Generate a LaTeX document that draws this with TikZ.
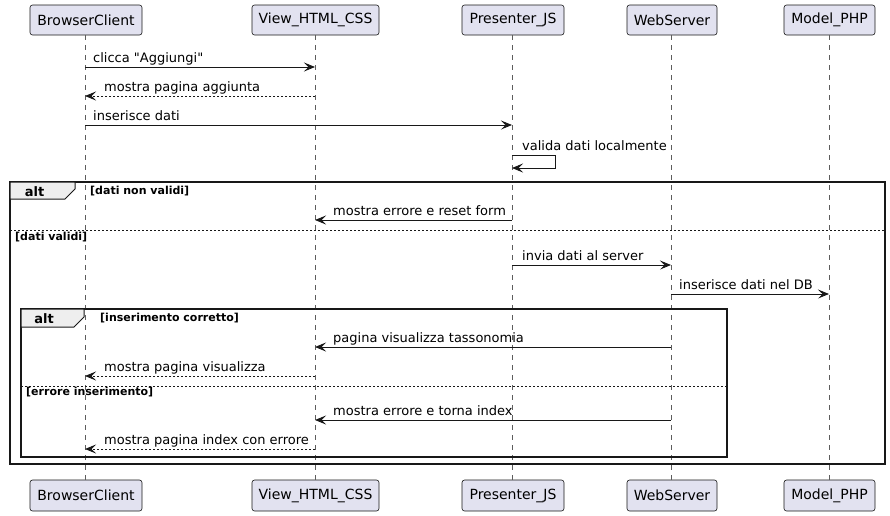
\documentclass[tikz,border=0pt]{standalone}
\usepackage{fontspec}
\setmainfont{DejaVu Sans}[Ligatures=TeXOff]
\usetikzlibrary{arrows.meta}
\definecolor{partfill}{HTML}{E2E2F0}
\definecolor{ink}{HTML}{181818}
\definecolor{tabfill}{HTML}{EEEEEE}
\begin{document}
\begin{tikzpicture}[x=1pt,y=-1pt,
  part/.style={draw=ink,line width=0.6pt,fill=partfill,rounded corners=2.5pt,minimum height=30pt,inner sep=0pt,font=\fontsize{14}{16}\selectfont,text=black},
  life/.style={draw=ink!70,line width=0.6pt,dash pattern=on 5pt off 5pt},
  msg/.style={draw=ink,line width=0.9pt,-{Stealth[length=11pt,width=9pt,inset=4.5pt]}},
  ret/.style={msg,dash pattern=on 2pt off 2pt},
  lbl/.style={anchor=base west,inner sep=0pt,font=\fontsize{13}{15}\selectfont},
  guard/.style={anchor=base west,inner sep=0pt,font=\fontsize{11}{13}\selectfont\bfseries},
  frame/.style={draw=ink,line width=1.5pt},
  tab/.style={draw=ink,line width=1pt,fill=tabfill},
  sep/.style={draw=ink,line width=0.8pt,dash pattern=on 2pt off 2pt},
  alttxt/.style={anchor=base,inner sep=0pt,font=\fontsize{13}{15}\selectfont\bfseries}]
\useasboundingbox (0,0) rectangle (890,515);
% participants top
\node[part,minimum width=112pt] (bc) at (86,20) {BrowserClient};
\node[part,minimum width=127pt] (vw) at (315.5,20) {View\_HTML\_CSS};
\node[part,minimum width=102pt] (pr) at (513,20) {Presenter\_JS};
\node[part,minimum width=90pt] (ws) at (672,20) {WebServer};
\node[part,minimum width=91pt] (md) at (829.5,20) {Model\_PHP};
% participants bottom
\node[part,minimum width=112pt,minimum height=31pt] (bc2) at (86,495.5) {BrowserClient};
\node[part,minimum width=127pt,minimum height=31pt] (vw2) at (315.5,495.5) {View\_HTML\_CSS};
\node[part,minimum width=102pt,minimum height=31pt] (pr2) at (513,495.5) {Presenter\_JS};
\node[part,minimum width=90pt,minimum height=31pt] (ws2) at (672,495.5) {WebServer};
\node[part,minimum width=91pt,minimum height=31pt] (md2) at (829.5,495.5) {Model\_PHP};
% lifeline anchors
\coordinate (L1) at (85,0);
\coordinate (L2) at (315,0);
\coordinate (L3) at (512,0);
\coordinate (L4) at (671,0);
\coordinate (L5) at (829,0);
\draw[life] (L1 |- bc.south) -- (L1 |- bc2.north);
\draw[life] (L2 |- vw.south) -- (L2 |- vw2.north);
\draw[life] (L3 |- pr.south) -- (L3 |- pr2.north);
\draw[life] (L4 |- ws.south) -- (L4 |- ws2.north);
\draw[life] (L5 |- md.south) -- (L5 |- md2.north);
% outer alt frame
\draw[frame] (10,182) rectangle (885,464);
\draw[tab] (10,182) -- (75,182) -- (75,189) -- (65,199) -- (10,199) -- cycle;
\node[alttxt] (alt1) at (34.5,196) {alt};
\node[guard] (g1) at (90,194) {[dati non validi]};
\draw[sep] (10,230) -- (885,230);
\node[guard] (g2) at (15,240) {[dati validi]};
% inner alt frame
\draw[frame] (21,309) rectangle (727,457);
\draw[tab] (21,309) -- (84,309) -- (84,317) -- (74,327) -- (21,327) -- cycle;
\node[alttxt] (alt2) at (44,323) {alt};
\node[guard] (g3) at (100,321) {[inserimento corretto]};
\draw[sep] (21,386) -- (727,386);
\node[guard] (g4) at (26,395) {[errore inserimento]};
% messages
\draw[msg] (L1 |- 0,67) -- (L2 |- 0,67);
\node[lbl] (t1) at (93,62) {clicca "Aggiungi"};
\draw[ret] (L2 |- 0,96) -- (L1 |- 0,96);
\node[lbl] (t2) at (104,91) {mostra pagina aggiunta};
\draw[msg] (L1 |- 0,125) -- (L3 |- 0,125);
\node[lbl] (t3) at (93,120) {inserisce dati};
\draw[msg] (L3 |- 0,155) -- (555,155) -- (555,168) -- (L3 |- 0,168);
\node[lbl] (t4) at (522,150) {valida dati localmente};
\draw[msg] (L3 |- 0,220) -- (L2 |- 0,220);
\node[lbl] (t5) at (333,215) {mostra errore e reset form};
\draw[msg] (L3 |- 0,265) -- (L4 |- 0,265);
\node[lbl] (t6) at (522,260) {invia dati al server};
\draw[msg] (L4 |- 0,294) -- (L5 |- 0,294);
\node[lbl] (t7) at (679,289) {inserisce dati nel DB};
\draw[msg] (L4 |- 0,347) -- (L2 |- 0,347);
\node[lbl] (t8) at (333,342) {pagina visualizza tassonomia};
\draw[ret] (L2 |- 0,376) -- (L1 |- 0,376);
\node[lbl] (t9) at (104,371) {mostra pagina visualizza};
\draw[msg] (L4 |- 0,420) -- (L2 |- 0,420);
\node[lbl] (t10) at (333,415) {mostra errore e torna index};
\draw[ret] (L2 |- 0,449) -- (L1 |- 0,449);
\node[lbl] (t11) at (104,444) {mostra pagina index con errore};
\end{tikzpicture}
\end{document}
